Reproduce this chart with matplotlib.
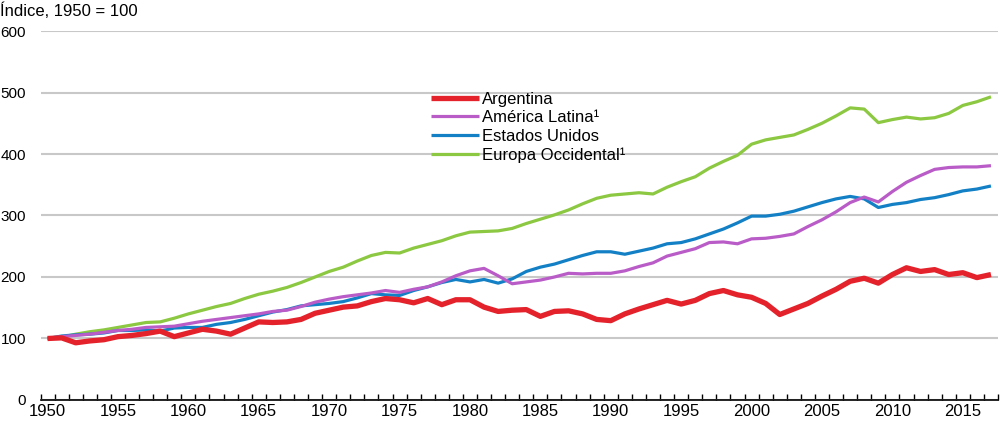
import matplotlib
matplotlib.use("Agg")
import matplotlib.pyplot as plt
from matplotlib.ticker import MultipleLocator, FixedLocator
from matplotlib import font_manager

names = {f.name for f in font_manager.fontManager.ttflist}
fam = [f for f in ["Liberation Sans Narrow", "Liberation Sans", "DejaVu Sans"] if f in names]
plt.rcParams["font.family"] = fam

years = list(range(1950, 2018))

argentina = [100, 101, 93, 96, 98, 103, 105, 108, 112, 103,
             109, 115, 112, 107, 117, 127, 126, 127, 131, 141,
             146, 151, 153, 160, 165, 163, 158, 165, 155, 163,
             163, 151, 144, 146, 147, 136, 144, 145, 140, 131,
             129, 140, 148, 155, 162, 156, 162, 173, 178, 171,
             167, 157, 139, 148, 157, 169, 180, 193, 198, 190,
             204, 215, 209, 212, 204, 207, 199, 204]
america_latina = [100, 103, 105, 107, 110, 113, 115, 118, 119, 120,
                  124, 128, 131, 134, 137, 140, 144, 146, 152, 159,
                  164, 168, 171, 174, 178, 175, 180, 184, 192, 202,
                  210, 214, 202, 189, 192, 195, 200, 206, 205, 206,
                  206, 210, 217, 223, 234, 240, 246, 256, 257, 254,
                  262, 263, 266, 270, 282, 293, 306, 321, 330, 322,
                  339, 354, 365, 375, 378, 379, 379, 381]
estados_unidos = [100, 104, 106, 107, 109, 113, 113, 114, 112, 117,
                  118, 118, 123, 126, 131, 137, 143, 147, 153, 155,
                  157, 160, 166, 173, 171, 170, 178, 184, 191, 196,
                  192, 196, 190, 197, 209, 216, 221, 228, 235, 241,
                  241, 237, 242, 247, 254, 256, 262, 270, 278, 288,
                  299, 299, 302, 307, 314, 321, 327, 331, 327, 313,
                  318, 321, 326, 329, 334, 340, 343, 348]
europa_occidental = [100, 102, 107, 111, 114, 118, 122, 126, 127, 133,
                     140, 146, 152, 157, 165, 172, 177, 183, 191, 200,
                     209, 216, 226, 235, 240, 239, 247, 253, 259, 267,
                     273, 274, 275, 279, 287, 294, 301, 309, 319, 328,
                     333, 335, 337, 335, 346, 355, 363, 377, 388, 398,
                     416, 423, 427, 431, 440, 450, 462, 475, 473, 451,
                     456, 460, 457, 459, 466, 479, 485, 493]

series = [
    ("Argentina", argentina, "#E3222B", 3.8),
    ("América Latina¹", america_latina, "#B95CC8", 2.3),
    ("Estados Unidos", estados_unidos, "#1380C6", 2.3),
    ("Europa Occidental¹", europa_occidental, "#8CC841", 2.3),
]

fig = plt.figure(figsize=(10, 4.23), dpi=100)
ax = fig.add_axes([0.0405, 0.0544, 0.9575, 0.8723])

# draw in reverse so Argentina sits on top
for name, vals, color, lw in reversed(series):
    ax.plot(years, vals, color=color, lw=lw, label=name, solid_capstyle="butt")

ax.set_xlim(1949.5, 2017.5)
ax.set_ylim(0, 600)
ax.yaxis.set_major_locator(MultipleLocator(100))
ax.grid(axis="y", color="#C8C8C8", lw=1.5)
ax.set_axisbelow(True)

ax.xaxis.set_major_locator(FixedLocator(range(1950, 2018, 5)))
ax.xaxis.set_minor_locator(FixedLocator([y - 0.5 for y in range(1950, 2019)]))
ax.tick_params(axis="x", which="major", length=0, pad=3, labelsize=12)
ax.tick_params(axis="x", which="minor", direction="in", length=4, width=1, color="black")
ax.tick_params(axis="y", length=0, pad=10.5, labelsize=11)

for s in ["top", "right", "left"]:
    ax.spines[s].set_visible(False)
ax.spines["bottom"].set_color("black")
ax.spines["bottom"].set_linewidth(1.2)

handles, labels = ax.get_legend_handles_labels()
ax.legend(handles[::-1], labels[::-1], loc="upper left",
          bbox_to_anchor=(0.408, 0.836), frameon=False, fontsize=12,
          handlelength=2.9, handletextpad=0.15, labelspacing=0.22,
          borderpad=0, borderaxespad=0)

fig.text(0.0, 0.993, "Índice, 1950 = 100", ha="left", va="top", fontsize=12)

fig.savefig("out.png", dpi=100)
